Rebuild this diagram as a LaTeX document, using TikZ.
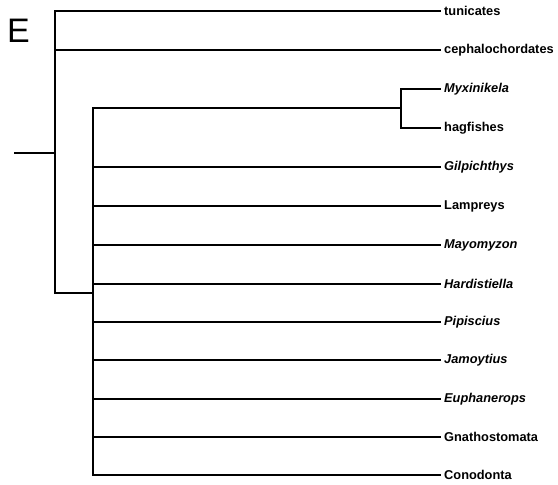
\documentclass[tikz,border=0pt]{standalone}
\usepackage{fontspec}
\setmainfont{Liberation Sans}
\begin{document}
\begin{tikzpicture}[x=1pt,y=-1pt,
  branch/.style={line width=1.6pt, line cap=rect},
  taxon/.style={anchor=west, inner sep=0pt, font=\fontsize{12.8}{13}\selectfont\bfseries},
  genus/.style={taxon, font=\fontsize{12.8}{13}\selectfont\bfseries\itshape}]
\useasboundingbox (0,0) rectangle (558,485);

% panel letter
\node[anchor=west, inner sep=0pt, font=\fontsize{34}{34}\selectfont] (panel) at (7,31) {E};

% terminal taxa
\node[taxon] (tun) at (444,11) {tunicates};
\node[taxon] (cep) at (444,50) {cephalochordates};
\node[genus] (myx) at (444,89) {Myxinikela};
\node[taxon] (hag) at (444,128) {hagfishes};
\node[genus] (gil) at (444,167) {Gilpichthys};
\node[taxon] (lam) at (444,206) {Lampreys};
\node[genus] (may) at (444,245) {Mayomyzon};
\node[genus] (har) at (444,284) {Hardistiella};
\node[genus] (pip) at (444,322) {Pipiscius};
\node[genus] (jam) at (444,360) {Jamoytius};
\node[genus] (eup) at (444,399) {Euphanerops};
\node[taxon] (gna) at (444,437) {Gnathostomata};
\node[taxon] (con) at (444,475) {Conodonta};

% internal nodes
\coordinate (stub) at (15,153);
\coordinate (root) at (55,153);
\coordinate (vert) at (93,293);
\coordinate (hx) at (401,108);

% root and outer clade
\draw[branch] (stub) -- (root);
\draw[branch] (tun.west -| root) -- (55,293) -- (vert);
\draw[branch] (tun.west -| root) -- ([xshift=-4pt]tun.west);
\draw[branch] (cep.west -| root) -- ([xshift=-4pt]cep.west);

% vertebrate clade comb
\draw[branch] (hx -| vert) -- (con.west -| vert);
\draw[branch] (hx -| vert) -- (hx);
\draw[branch] (myx.west -| hx) -- (hag.west -| hx);
\foreach \t in {myx,hag}
  \draw[branch] (\t.west -| hx) -- ([xshift=-4pt]\t.west);
\foreach \t in {gil,lam,may,har,pip,jam,eup,gna,con}
  \draw[branch] (\t.west -| vert) -- ([xshift=-4pt]\t.west);
\end{tikzpicture}
\end{document}
